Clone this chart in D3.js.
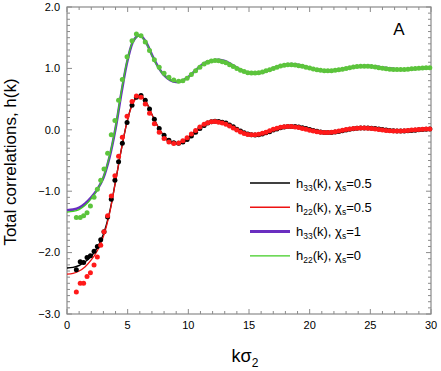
<!DOCTYPE html>
<meta charset="utf-8">
<script src="https://d3js.org/d3.v7.min.js"></script>
<style>
  body { margin: 0; background: #fff; }
  text { font-family: "Liberation Sans", Arial, Helvetica, sans-serif; }
</style>
<div id="chart"></div>
<script>
// k grid for the theory lines
var kLine = [0,0.5,1,1.5,2,2.5,3,3.5,4,4.5,5,5.5,6,6.5,7,7.5,8,8.5,9,9.5,10,10.5,11,11.5,12,12.5,13,13.5,14,14.5,15,
  15.5,16,16.5,17,17.5,18,18.5,19,19.5,20,20.5,21,21.5,22,22.5,23,23.5,24,24.5,25,25.5,26,26.5,27,27.5,28,28.5,29,29.5,30];

// h33(k), chi=0.5 (black line)
var h33half = [-2.25,-2.24,-2.21,-2.15,-2.06,-1.92,-1.70,-1.35,-0.84,-0.30,0.17,0.47,0.56,0.46,0.25,0.05,-0.10,-0.19,-0.225,-0.21,-0.15,
  -0.06,0.03,0.10,0.13,0.135,0.115,0.07,0.01,-0.04,-0.075,-0.085,-0.075,-0.045,-0.005,0.03,0.05,0.055,0.05,0.03,0.005,
  -0.02,-0.04,-0.045,-0.04,-0.025,-0.005,0.015,0.025,0.03,0.028,0.02,0.005,-0.008,-0.017,-0.02,-0.018,-0.01,0.0,0.008,0.012];
// h22(k), chi=0.5 (red line)
var h22half = [-2.35,-2.34,-2.30,-2.23,-2.12,-1.97,-1.74,-1.37,-0.84,-0.30,0.17,0.46,0.55,0.46,0.25,0.05,-0.10,-0.19,-0.225,-0.21,-0.15,
  -0.06,0.03,0.10,0.13,0.135,0.115,0.07,0.01,-0.04,-0.075,-0.085,-0.075,-0.045,-0.005,0.03,0.05,0.055,0.05,0.03,0.005,
  -0.02,-0.04,-0.045,-0.04,-0.025,-0.005,0.015,0.025,0.03,0.028,0.02,0.005,-0.008,-0.017,-0.02,-0.018,-0.01,0.0,0.008,0.012];
// h33(k), chi=1 (purple line)
var h33one = [-1.31,-1.30,-1.27,-1.20,-1.10,-0.97,-0.78,-0.45,0.02,0.62,1.14,1.46,1.54,1.43,1.22,1.03,0.89,0.81,0.78,0.80,0.86,
  0.95,1.04,1.10,1.13,1.14,1.12,1.07,1.01,0.96,0.93,0.92,0.93,0.96,1.00,1.04,1.06,1.07,1.06,1.04,1.01,
  0.98,0.965,0.96,0.965,0.98,1.00,1.02,1.035,1.04,1.04,1.03,1.015,1.0,0.99,0.985,0.985,0.99,1.0,1.005,1.01];
// h22(k), chi=0 (green line)
var h22zero = [-1.34,-1.33,-1.30,-1.23,-1.12,-0.98,-0.77,-0.43,0.04,0.65,1.16,1.46,1.53,1.42,1.21,1.02,0.89,0.81,0.785,0.80,0.86,
  0.95,1.035,1.095,1.125,1.135,1.115,1.07,1.01,0.96,0.93,0.92,0.93,0.96,1.00,1.035,1.058,1.065,1.058,1.04,1.01,
  0.98,0.966,0.961,0.966,0.98,1.00,1.02,1.033,1.038,1.037,1.028,1.014,1.0,0.99,0.985,0.985,0.99,0.998,1.004,1.008];

// simulation k points
var kDots = [0.77,1.09,1.37,1.65,1.93,2.23,2.5,2.78,3.05,3.35,3.65,3.95,4.25,4.56,4.95,5.36,5.72,6.1,6.45,6.8,7.2,7.6,8.0,8.4,8.8,
  9.2,9.55,9.9,10.25,10.6,10.95,11.3,11.6,11.9,12.2,12.5,12.8,13.1,13.4,13.7,14.0,14.3,14.6,14.9,15.2,15.5,15.8,16.1,16.4,16.7,
  17.0,17.3,17.6,17.9,18.2,18.5,18.8,19.1,19.4,19.7,20.0,20.3,20.6,20.9,21.2,21.5,21.8,22.1,22.4,22.7,23.0,23.3,23.6,23.9,24.2,
  24.5,24.8,25.1,25.4,25.7,26.0,26.3,26.6,26.9,27.2,27.5,27.8,28.1,28.4,28.7,29.0,29.3,29.6,29.9];

var dots33half = [-2.28,-2.15,-2.16,-2.08,-2.05,-1.98,-1.90,-1.79,-1.66,-1.42,-1.13,-0.82,-0.52,-0.22,0.12,0.40,0.53,0.56,0.48,0.34,
  0.17,0.02,-0.09,-0.17,-0.21,-0.22,-0.2,-0.16,-0.1,-0.04,0.02,0.07,0.11,0.13,0.14,0.135,0.125,0.11,0.08,0.05,0.01,-0.02,-0.05,
  -0.07,-0.08,-0.085,-0.08,-0.07,-0.05,-0.03,-0.005,0.015,0.035,0.047,0.053,0.055,0.052,0.045,0.033,0.02,0.005,-0.01,-0.025,
  -0.037,-0.043,-0.045,-0.043,-0.037,-0.028,-0.017,-0.005,0.007,0.017,0.024,0.028,0.03,0.029,0.026,0.02,0.013,0.005,-0.003,
  -0.01,-0.015,-0.018,-0.02,-0.019,-0.017,-0.012,-0.006,0.0,0.005,0.009,0.011];

var dots22half = [-2.64,-2.50,-2.50,-2.39,-2.33,-2.2,-2.07,-1.88,-1.66,-1.40,-1.08,-0.75,-0.43,-0.12,0.22,0.46,0.55,0.53,0.42,0.27,
  0.10,-0.04,-0.14,-0.2,-0.225,-0.215,-0.18,-0.13,-0.07,-0.01,0.045,0.09,0.115,0.13,0.135,0.125,0.11,0.09,0.06,0.03,-0.005,
  -0.035,-0.06,-0.075,-0.082,-0.08,-0.072,-0.058,-0.038,-0.015,0.008,0.027,0.042,0.05,0.054,0.052,0.046,0.036,0.023,0.008,
  -0.007,-0.02,-0.032,-0.04,-0.044,-0.043,-0.038,-0.03,-0.02,-0.008,0.004,0.014,0.022,0.027,0.03,0.029,0.026,0.02,0.013,
  0.005,-0.003,-0.01,-0.015,-0.018,-0.02,-0.019,-0.016,-0.011,-0.005,0.001,0.006,0.009,0.011,0.012];

var dots22zero = [-1.43,-1.43,-1.40,-1.35,-1.24,-1.10,-0.97,-0.82,-0.64,-0.38,-0.08,0.15,0.48,0.82,1.19,1.45,1.56,1.53,1.43,1.29,
  1.14,1.02,0.92,0.855,0.81,0.79,0.80,0.84,0.9,0.96,1.02,1.07,1.1,1.12,1.13,1.125,1.11,1.09,1.06,1.03,1.0,0.97,0.95,0.93,0.925,
  0.925,0.93,0.94,0.96,0.98,1.0,1.02,1.04,1.05,1.06,1.06,1.055,1.045,1.035,1.02,1.005,0.99,0.978,0.968,0.962,0.96,0.962,0.968,
  0.977,0.988,1.0,1.012,1.022,1.03,1.035,1.037,1.035,1.03,1.022,1.012,1.003,0.995,0.988,0.984,0.982,0.982,0.984,0.988,0.993,
  0.998,1.003,1.007,1.01,1.01];

var yTicks = [2, 1, 0, -1, -2, -3];
var xTicks = [0, 5, 10, 15, 20, 25, 30];

var legendItems = [
  {sub: "33", chi: "0.5", color: "#000000", w: 1.6},
  {sub: "22", chi: "0.5", color: "#ee1111", w: 1.4},
  {sub: "33", chi: "1", color: "#6a2fc0", w: 3},
  {sub: "22", chi: "0", color: "#3fcc22", w: 1.4}
];

var margin = {top: 7, right: 10, bottom: 57, left: 67},
    width = 441 - margin.left - margin.right,
    height = 371 - margin.top - margin.bottom;

var svg = d3.select("#chart")
  .append("svg")
    .attr("width", 441)
    .attr("height", 371)
  .append("g")
    .attr("transform", "translate(" + margin.left + "," + margin.top + ")");

var x = d3.scaleLinear().domain([0, 30]).range([0, width]);
var y = d3.scaleLinear().domain([-3, 2]).range([height, 0]);

var frameColor = "#8a8a8a";

// ticks on all four sides, pointing inward
var xMinor = d3.range(0, 31, 1), yMinor = d3.range(-30, 21, 1).map(function(v) { return v / 10; });
xMinor.forEach(function(v) {
  var L = (v % 5 === 0) ? 5 : 3;
  svg.append("line").attr("x1", x(v)).attr("x2", x(v)).attr("y1", height).attr("y2", height - L)
    .attr("stroke", frameColor).attr("stroke-width", 1);
  svg.append("line").attr("x1", x(v)).attr("x2", x(v)).attr("y1", 0).attr("y2", L)
    .attr("stroke", frameColor).attr("stroke-width", 1);
});
yMinor.forEach(function(v) {
  var L = (Math.abs(v - Math.round(v)) < 1e-6) ? 5 : 3;
  svg.append("line").attr("x1", 0).attr("x2", L).attr("y1", y(v)).attr("y2", y(v))
    .attr("stroke", frameColor).attr("stroke-width", 1);
  svg.append("line").attr("x1", width).attr("x2", width - L).attr("y1", y(v)).attr("y2", y(v))
    .attr("stroke", frameColor).attr("stroke-width", 1);
});

// frame
svg.append("rect")
  .attr("x", 0).attr("y", 0).attr("width", width).attr("height", height)
  .attr("fill", "none").attr("stroke", frameColor).attr("stroke-width", 1.2);

// tick labels
svg.selectAll(".ylab").data(yTicks).enter().append("text")
  .attr("x", -7).attr("y", function(d) { return y(d); }).attr("dy", "0.35em")
  .attr("text-anchor", "end").style("font-size", "11px")
  .text(function(d) { return d3.format(".1f")(d).replace("-", "\u2212"); });
svg.selectAll(".xlab").data(xTicks).enter().append("text")
  .attr("x", function(d) { return x(d); }).attr("y", height + 15)
  .attr("text-anchor", "middle").style("font-size", "11px")
  .text(function(d) { return d; });

// axis titles
svg.append("text")
  .attr("transform", "rotate(-90)")
  .attr("x", -155).attr("y", -51)
  .attr("text-anchor", "middle").style("font-size", "17px")
  .text("Total correlations, h(k)");
var xt = svg.append("text")
  .attr("x", width / 2 - 4).attr("y", height + 48)
  .attr("text-anchor", "middle").style("font-size", "18px");
xt.append("tspan").text("k\u03c3");
xt.append("tspan").attr("dy", 5).style("font-size", "12px").text("2");

svg.append("text").attr("x", 332).attr("y", 28).attr("text-anchor", "middle")
  .style("font-size", "17px").text("A");

// lines
var line = d3.line().curve(d3.curveCatmullRom)
  .x(function(d) { return x(d[0]); })
  .y(function(d) { return y(d[1]); });
function pairs(ks, hs) { return ks.map(function(k, i) { return [k, hs[i]]; }); }

svg.append("path").datum(pairs(kLine, h33one)).attr("d", line)
  .attr("fill", "none").attr("stroke", legendItems[2].color).attr("stroke-width", 2.6);
svg.append("path").datum(pairs(kLine, h22zero)).attr("d", line)
  .attr("fill", "none").attr("stroke", legendItems[3].color).attr("stroke-width", 1.3);
svg.append("path").datum(pairs(kLine, h33half)).attr("d", line)
  .attr("fill", "none").attr("stroke", legendItems[0].color).attr("stroke-width", 1.4);
svg.append("path").datum(pairs(kLine, h22half)).attr("d", line)
  .attr("fill", "none").attr("stroke", legendItems[1].color).attr("stroke-width", 1.3);

// simulation points
function drawDots(vals, color) {
  svg.append("g").selectAll("circle")
    .data(pairs(kDots, vals)).enter().append("circle")
      .attr("cx", function(d) { return x(d[0]); })
      .attr("cy", function(d) { return y(d[1]); })
      .attr("r", 2.5)
      .attr("fill", color);
}
drawDots(dots33half, "#000000");
drawDots(dots22half, "#ff1a1a");
drawDots(dots22zero, "#5cc43c");

// legend
var leg = svg.append("g").attr("transform", "translate(" + (250 - margin.left) + "," + (183 - margin.top) + ")");
legendItems.forEach(function(d, i) {
  var g = leg.append("g").attr("transform", "translate(0," + (i * 24.3) + ")");
  g.append("line").attr("x1", 0).attr("x2", 40).attr("y1", 0).attr("y2", 0)
    .attr("stroke", d.color).attr("stroke-width", d.w);
  var t = g.append("text").attr("x", 46).attr("y", 0).attr("dy", "0.35em").style("font-size", "13px");
  t.append("tspan").text("h");
  t.append("tspan").attr("dy", 3).style("font-size", "8.5px").text(d.sub);
  t.append("tspan").attr("dy", -3).text("(k), \u03c7");
  t.append("tspan").attr("dy", 3).style("font-size", "8.5px").text("s");
  t.append("tspan").attr("dy", -3).text("=" + d.chi);
});
</script>
